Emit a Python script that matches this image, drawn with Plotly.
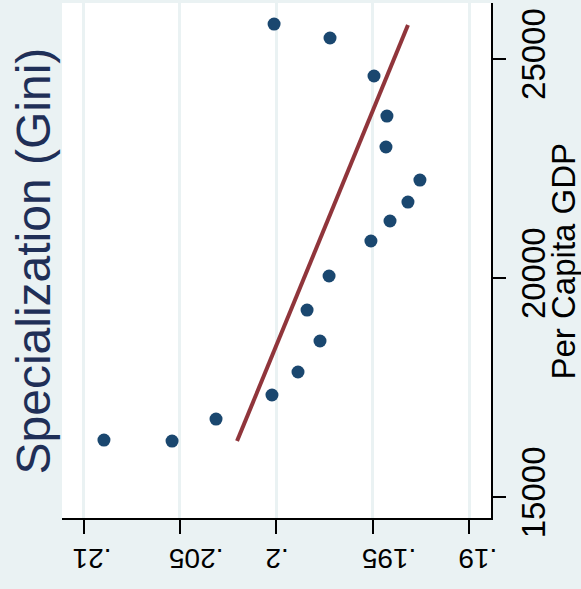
import plotly.graph_objects as go

# Data
gini = [0.20894, 0.20541, 0.20313, 0.20023, 0.19888, 0.19774, 0.19841, 0.19727,
        0.19510, 0.19411, 0.19318, 0.19256, 0.19432, 0.19427, 0.19494, 0.19722, 0.20012]
gdp = [16307, 16284, 16786, 17334, 17859, 18566, 19273, 20049,
       20848, 21304, 21737, 22239, 22992, 23699, 24612, 25479, 25798]
fit_gini = [0.20204, 0.19318]
fit_gdp = [16284, 25775]
gini_ticks = [0.21, 0.205, 0.2, 0.195, 0.19]
gini_labels = [".21", ".205", ".2", ".195", ".19"]
gdp_ticks = [15000, 20000, 25000]
gdp_labels = ["15000", "20000", "25000"]

FONT = "Liberation Sans, Arial, sans-serif"

fig = go.Figure()
fig.add_trace(go.Scatter(x=gini, y=gdp, mode="markers",
                         marker=dict(color="#1a476f", size=13, line=dict(width=0)),
                         showlegend=False, hoverinfo="skip"))
fig.add_trace(go.Scatter(x=fit_gini, y=fit_gdp, mode="lines",
                         line=dict(color="#90353b", width=4),
                         showlegend=False, hoverinfo="skip"))

fig.update_layout(
    width=581, height=589,
    margin=dict(l=62, r=90, t=3, b=71, pad=0),
    paper_bgcolor="#eaf2f3", plot_bgcolor="white",
    font=dict(family=FONT, color="black"),
    xaxis=dict(range=[0.211115, 0.188875], tickvals=gini_ticks, ticktext=gini_labels,
               tickangle=180, tickfont=dict(size=28, color="black"),
               ticklabelshift=11, ticklabelstandoff=10,
               showgrid=True, gridcolor="#eaf2f3", gridwidth=2.5,
               zeroline=False, showline=True, linecolor="black", linewidth=1.5,
               ticks="outside", ticklen=14, tickwidth=1.5, tickcolor="black"),
    yaxis=dict(range=[14528, 26278], tickvals=gdp_ticks, ticktext=gdp_labels,
               side="right", tickangle=-90, tickfont=dict(size=33, color="black"),
               showgrid=False, zeroline=False, showline=True, linecolor="black",
               linewidth=1.5, ticks="outside", ticklen=13, tickwidth=1.5,
               tickcolor="black"),
)

fig.add_annotation(text="Specialization (Gini)", xref="paper", yref="paper",
                   x=-62 / 429 + 33 / 429, y=1 - (261.5 - 3) / 515, textangle=-90,
                   showarrow=False, xanchor="center", yanchor="middle",
                   font=dict(size=48, color="#1f2f57", family=FONT))
fig.add_annotation(text="Per Capita GDP", xref="paper", yref="paper",
                   x=(563 - 62) / 429, y=1 - (261.5 - 3) / 515, textangle=-90,
                   showarrow=False, xanchor="center", yanchor="middle",
                   font=dict(size=33, color="black", family=FONT))

fig.write_html("out.html")
